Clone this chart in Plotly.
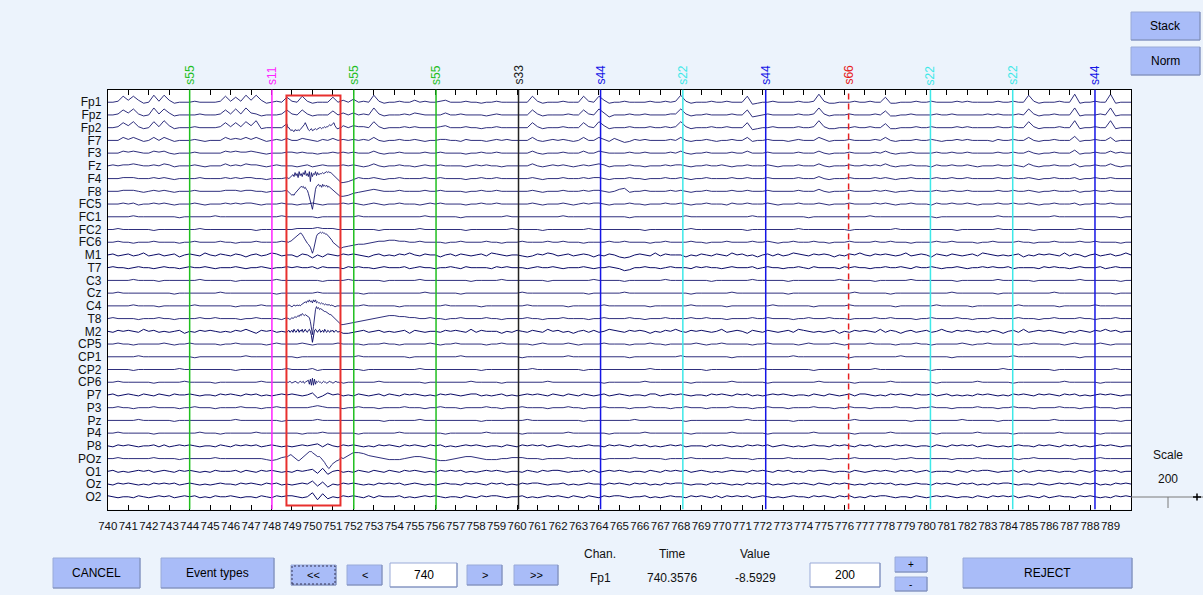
import sys
import plotly.graph_objects as go

# ---------------- DATA ----------------
CHANNELS = ["Fp1", "Fpz", "Fp2", "F7", "F3", "Fz", "F4", "F8", "FC5", "FC1", "FC2", "FC6",
            "M1", "T7", "C3", "Cz", "C4", "T8", "M2", "CP5", "CP1", "CP2", "CP6", "P7",
            "P3", "Pz", "P4", "P8", "POz", "O1", "Oz", "O2"]

T_START, T_END = 740, 790
BASE_RATE = 4            # samples / s of the coarse traces
UV_PER_LEVEL = 15.7      # µV per level step ('m' = 0)
SPACING = 200            # µV between channels (Scale 200)

# coarse traces, 4 Hz, 740.00 ... 790.00 (level letters, 'm' = 0)
BASE = {
    "Fp1": ("mmns osol mtnt olmm mnmm mmns nrnt otol mnmr nmsn"
            "lmmm rmom pmnm tnlm mnmm omnm mnom mmnm mlmm nmmm"
            "mmms nlmm mnmm msnm solm mnmm mmnm mnmn tnlm mmnm"
            "mnmm mskl mmnm mmmn mmnu nllm mmnm mnmm rllm mmnm"
            "mnmm mmnm nmmm mmnm mnmm tnlm mmnm mulm mnmm ulmm" "m"),
    "Fpz": ("mmnr osnl mtns olmm mmnm mmnr nsnt onlm mmnr nmrn"
            "lmmm qmom omnm tnlm mmnm onmm mmom mnmm mmlm nmmm"
            "mmmr nlmm mmnm mrnm sokm mmnm mnmm mmnn snlm mnmm"
            "mmnm mrkl mnmm mmmn mmnt nlmm mnmm mmnm qllm mnmm"
            "mmnm mnmm mmmm nmnm mmnm snlm mnmm mtlm mmnm tlmm" "m"),
    "Fp2": ("mmnr osnl msnt olmm mnmm mmnr nrns otlm mmmq mmmm"
            "mmmm mmom onnm snlm mmnm nmmm mnom mmnm mlmm nmmm"
            "mmmr nlmm mnmm mrnm solm mmnm mmnm mnmn snlm mmnm"
            "mnmm mrkl mmnm mmmn mmnt nllm mmnm mnmm qllm mmnm"
            "mnmm mmnm nmmm mmnm mnmm snlm mmnm mtlm mnmm tlmm" "m"),
    "F7":  ("mmmp npnl mpmp nlmm mnml mmmp nonp npnl mnmo mmon"
            "mlnm omnm nmnm pmlm mnmm nmlm mnnm mlnm mmlm nmnm"
            "mmmp mlmn mnml mpmm pnlo mkln mnmm mmnm pmlm mnml"
            "mmnm mplm mnmm mlmn mmmp nlmm mnmm mmnm pmlm mmnm"
            "mnml mmnm nmmm mlnm mnmm pmlm mnmm mqlm mnmm plmm" "m"),
    "F3":  ("mmmo nonm mono mlmm mnmm mmmo nonn onml mmmn nmnm"
            "mlmm nmnm nmmm omlm mnmm mmnm mnmm mmlm mnmm nmmm"
            "mmmo mlmm mnmm momm onmm mmnm mnmm mmnm omlm mnmm"
            "mmnm momm mnmm mmmn mmmo mlmm mnmm mmnm omlm mnmm"
            "mmnm mnmm nmmm mmnm mnmm omlm mnmm mplm mnmm omnm" "m"),
    "Fz":  ("mnmn nonm mnmo nlmm mnml mmmo mnmo nnml mnmm mlmn"
            "lmnm mmnm nmlm omlm mnmm lmnm mnmm mmlm nmnm mlmm"
            "mmmo mlmn mnml mnmn onlm mmnm mlmm mnmn nmlm mnmm"
            "nmlm mnmm mnml mmmn mmmo mlmm mnmm nmnm omlm mnmm"
            "mlnm mnmm nmlm mmnm mnml omlm mnmm molm mnmm omlm" "m"),
    "F4":  ("mmmn nnmm mnmn mlmm mmnm mmmn mnmn nmml mmmn mmmm"
            "mmmm mmij lnmm nmlm mnmm mmnm mnmm mmlm mnmm nmmm"
            "mmmn mlmm mnmm mnmn nmlm mmnm mlmm mnmm nmlm mnmm"
            "mmnm mnmm mnmm mmmn mmmo mlmm mnmm mmnm nmlm mnmm"
            "mmnm mnmm nmmm mmnm mnmm nmlm mnmm mnlm mnmm nmmm" "m"),
    "F8":  ("mmmn nnml mnmn mlmm mnmm mmmn nnmn nmml mmmn mmmm"
            "mmmm mmhi klmn onmm mnmm mmnm mnmm mmlm mnmm nmmm"
            "mmmn mlmm mnmm mnmn nmlm oplm mnmm mmnm nmlm mnmm"
            "mmnm mnmm mnmm mmmn mmmo mlmm mnmm mmnm nmlm mnmm"
            "mmnm mnmm nmmm mmnm mnmm nmlm mnmm mnlm mnmm nmmm" "m"),
    "FC5": ("mmmn mnlm mnmn mlmm mnml mmmn mnmn nmlm mmnm mlmm"
            "nmlm mmnm nmlm nmlm mnmm mlmn mnmm mmlm mnmm nmmm"
            "mmmn mlmm mnml mnmn nmlm mmnm mlmm mnmm nmlm mnmm"
            "mlnm mnmm mnml mmmn mmmn mlmm mnmm mmnm nmlm mnmm"
            "mlnm mnmm nmlm mmnm mnmm nmlm mnmm mnlm mnmm nmmm" "m"),
    "FC1": ("mmmm mnmm mmmm mmlm mmmm mnmm mmmm mmmm mmnm mmmm"
            "mlmm mmmm mnmm mmmm mmmm mmnm mmmm mlmm mmmm mmnm"
            "mmmm mmmm mnmm mmmm mmmm mmlm mmmm mmmm mnmm mmmm"
            "mmmm mmnm mmmm mmmm mlmm mmmm mmmm mnmm mmmm mmmm"
            "mmlm mmmm mmmm mmnm mmmm mmmm mnmm mmmm mmmm mmlm" "m"),
    "FC2": ("mmnm mmmm mlmm mmmm mmnm mmmm mmmm mlmm mmmm mnnn"
            "nonn nmmm mmmm mlmm mmmm mnmm mmmm mmlm mmmm mmmn"
            "mmmm mlmm mmmm mmnm mmmm mmmm mlmm mmmm mmnm mmmm"
            "mmmm mlmm mmmm mmmn mmmm mmmm mlmm mmmm mmnm mmmm"
            "mmmm mmlm mmmm mmnm mmmm mlmm mmmm mmnm mmmm mmmm" "m"),
    "FC6": ("mmnm mlmm mnmm mmlm mnmm mmnm mlmm mnmm mmnm mmmm"
            "mmmm mmhi jkkl mnno onnm mnmm mmlm mnmm mmnm mlmm"
            "mnmm mmnm mnmm mlmm mmnm mnmm mmlm mnmm mmnm mlmm"
            "mnmm mmnm mnml mmnm mmnm mlmm mnmm mmnm mnmm mlmm"
            "mmnm mnmm mmlm mnmm mmnm mlmm mnmm mmnm mnmm mmlm" "m"),
    "M1":  ("mnlm nlmo lmnl mnkm nmlo mlnm lnmk mnlm onlm mknm"
            "jmkn mlnm nmlk mnlm lnmo mlnm mkmn lnml mnlo nmlm"
            "mlkl nmon lmnl mnmk mlnm kjkm nmlo lnmm mkml nmln"
            "mlom nlmk mnln lmon mlnm nmkm lnmo mlnm nmlm olmn"
            "mknm lnml mnlo nmlm lmnk mlnm nmlo lnmk mnlm nlmo" "m"),
    "T7":  ("mnmm lmnm mlmn mmlm nmmn mlmm mnml mmnm lmmn mnmm"
            "nlnm mmln mnmm lmnm mmnl mnmm lmmn mlnm mmml nmnm"
            "mmlm nmmn mlmm mnml mmnm ljkm mnmm lmnm mmln mnmm"
            "lmnm mmnl mnmm lmmn mlnm mmml nmnm mlmm nmmn mlnm"
            "mnml mmnm lmmn mnmm nlmm mmln mnmm lmnm mmnl mnmm" "m"),
    "C3":  ("mmmm mnmm mmlm mmmm mmnm mmmm mlmm mmmm mnmm mmmm"
            "mmlm mmmn mmmm mmlm mmmm mnmm mmmm mmml mmmm mnmm"
            "mmmm mmlm mmmm mmmn mmmm mlmm mmmm mnmm mmmm mmlm"
            "mmmm mmnm mmmm mlmm mmmm mmmn mmmm mmlm mmmm mnmm"
            "mmmm mmlm mmmm mmnm mmmm mlmm mmmm mmnm mmmm mmlm" "m"),
    "Cz":  ("mmnm mmmm mmmm mlmm mmmm mmnm mmmm mmmm mlmm mmmm"
            "mnmm mmmm mmlm mmmm mmmm mmnm mmmm mlmm mmmm mmmm"
            "mnmm mmmm mmmm mmlm mmmm mnmm mmmm mmmm mmlm mmmm"
            "mmnm mmmm mmmm mlmm mmmm mmmm mmnm mmmm mlmm mmmm"
            "mmmm mnmm mmmm mmlm mmmm mmmm mnmm mmmm mmmm mlmm" "m"),
    "C4":  ("mmmm mnmm mmlm mmmm mnmm mmmm mlmm mmnm mmmm mmmm"
            "mmmm mmmm mmnm mmmm mlmm mmmm mmnm mmmm mlmm mmmm"
            "mmnm mmmm mmlm mmmm mnmm mmmm mmlm mmmm mmnm mmmm"
            "mlmm mmmm mmnm mmmm mmlm mmmm mnmm mmmm mmlm mmmm"
            "mmnm mmmm mlmm mmmm mmnm mmmm mmlm mmmm mnmm mmmm" "m"),
    "T8":  ("mnmm mmlm mmnm mlmm mmnm mnmm mmlm mnmm mmln mmmm"
            "mmmm mmgh ijkl mnop poon nmmn mmlm mnmm mmnm mlmm"
            "mmnm mlmm mnmm mmlm mnmm mmnm mlmm mnmm mmnm mnmm"
            "mlmm mmnm mnmm mmlm mnmm mnmm mlmm mmnm mnmm mmlm"
            "mnmm mmnm mlmm mnmm mmnm mmlm mnmm mmnm mlmm mnmm" "m"),
    "M2":  ("mlnm nmlo mnlm lmnk mlnm nmlm lnmo mknm nlml mnlm"
            "mmmm mmkk lmnl mnlm lmnk nmlm mlnm nmlo lnmm mkml"
            "nmln mlom nlmk mnln lmon mlnm nmkm lnmo mlnm nmlm"
            "olmn mknm lnml mnlo nmlm lmnk mlnm nmlo lnmk mnlm"
            "nlmo mlnm nmlm lnmk mnlo lmnm nmlk mlnm lnmo mnlm" "m"),
    "CP5": ("mmnm mlmm mmmn mlmm nmmm mmlm mnmm mmml mnmm mmnm"
            "lmmm mnmm mmlm mmnm mlmm mmmn mlmm nmmm mmlm mnmm"
            "mmml mnmm mmnm lmmm mnmm mmlm mmnm mlmm mmmn mlmm"
            "nmmm mmlm mnmm mmml mnmm mmnm lmmm mnmm mmlm mmnm"
            "mlmm mmmn mlmm nmmm mmlm mnmm mmml mnmm mmnm lmmm" "m"),
    "CP1": ("mmmm mmnm mmmm mmmm mlmm mmmm mmmn mmmm mmmm mlmm"
            "mmmm mmmm mnmm mmmm mmml mmmm mmmm mnmm mmmm mmmm"
            "mlmm mmmm mmnm mmmm mmmm mmlm mmmm mmmm nmmm mmmm"
            "mmlm mmmm mmmm mmnm mmmm mmmm mlmm mmmm mmmn mmmm"
            "mmmm mlmm mmmm mmmm mnmm mmmm mmmm mmlm mmmm mmmm" "m"),
    "CP2": ("mmmm mlmm mmmm mmnm mmmm mmmm mlmm mmmm mmmn mmmm"
            "nlmm mmmm mmlm mmmm mmmm mnmm mmmm mmmm mlmm mmmm"
            "mmmn mmmm mmmm mlmm mmmm mmmm mmnm mmmm mmmm mlmm"
            "mmmm mmmm nmmm mmmm mmlm mmmm mmmm mmnm mmmm mmmm"
            "mlmm mmmm mmmm mmmn mmmm mmmm mlmm mmmm mmmm mnmm" "m"),
    "CP6": ("mmnm mmmm mlmm mmmn mmmm mlmm mmmm mmnm mmmm mmmm"
            "mmmm mmlm mmmm mnmm mmmm mmlm mmmm mmmn mmmm mlmm"
            "mmmm mmnm mmmm mmmm mlmm mmmm mnmm mmmm mmlm mmmm"
            "mmnm mmmm mlmm mmmm mmmn mmmm mmlm mmmm mnmm mmmm"
            "mmlm mmmm mmnm mmmm mlmm mmmm mmmn mmmm mmlm mmmm" "m"),
    "P7":  ("mnlm nmln mlnm lnmm nmlm mlnm nmln mnlm lmnm nmlm"
            "ojlo mnlm lnml mnln mlnm nmlm lnmn mlmn nlml mnlm"
            "lmnm nmln mlnm lnml mnlm nmlm mlnn lmnm nmlm mlnm"
            "nmln mnlm lmnm nmlm mlnm lnml mnln nmlm lnmn mlnm"
            "mnlm nlml mlnm nmlm lnmn mlnm nmln mnlm lmnm nmlm" "m"),
    "P3":  ("mmnm mlmm mnmm mmlm mnmm mlmm mmnm mmlm mnmm mmmm"
            "nonm mmlm mnmm mlmm mmnm mmlm mnmm mlmm mmnm mlmm"
            "mnmm mmlm mmnm mlmm mnmm mmlm mmnm mmlm mnmm mlmm"
            "mmnm mmlm mnmm mlmm mmnm mmlm mnmm mlmm mmnm mmlm"
            "mnmm mlmm mmnm mmlm mnmm mlmm mmnm mmlm mnmm mlmm" "m"),
    "Pz":  ("mmmm mmnm mmmm mlmm mmmm mmmm mnmm mmmm mmlm mmmm"
            "mnmm mmmm mmmm mmlm mmmm mnmm mmmm mmmm mlmm mmmm"
            "mmnm mmmm mmmm mlmm mmmm mmmn mmmm mmmm mlmm mmmm"
            "mmmm mnmm mmmm mmlm mmmm mmmm mmnm mmmm mmmm mlmm"
            "mmmm mmmn mmmm mmlm mmmm mmmm mnmm mmmm mmmm mmlm" "m"),
    "P4":  ("mmnm mmmm mlmm mmmm mmnm mmlm mmmm mnmm mmmm mmlm"
            "mmnm mmmm mlmm mmmm mnmm mmmm mmlm mmmm mmnm mmmm"
            "mlmm mmmm mmnm mmmm mmlm mmmm mnmm mmmm mmlm mmmm"
            "mmnm mmmm mlmm mmmm mmnm mmmm mmlm mmmm mnmm mmmm"
            "mmlm mmmm mmnm mmmm mlmm mmmm mmnm mmmm mmlm mmmm" "m"),
    "P8":  ("mlnm nmlm mnln lmnm nmlm mlnm lnmn mnlm nmlm lmnm"
            "nolo mlnm nmlm lnmn mlnm nmln mnlm lmnm nmlm mlnm"
            "lnmn mnlm nmlm lmnm mlnm nmln mnlm lmnm nlmm mlnm"
            "nmlm lnmn mnlm nmlm lmnm mlnm nmln mnlm lmnm nmlm"
            "mlnm lnmn mnlm nmlm lmnm mlnm nmln mnlm lmnm nmlm" "m"),
    "POz": ("mmnm mmmm mnmm mmlm mmmm mnmm mmmm mmml klno mmmm"
            "mmmm mmmp ssrp onml llmn oonm lkkl mnoo nmll lmmn"
            "nnmm mlmm mmnm mmmm mlmm mmmn mmmm mlmm mmnm mmmm"
            "mnmm mmlm mmmm mnmm mmmm mlmm mmnm mmmm mmlm mnmm"
            "mmmm mlmm mmnm mmmm mmlm mnmm mmmm mlmm mmnm mmmm" "m"),
    "O1":  ("mnlm lmnm nlmn mlnm nmlm lnmm mnln mlnm nmlm lnmn"
            "okpj mnlm lnml nmln mlnm nmlm lnmn mnlm lmnm nmlm"
            "mlnm lnmn nmlm mnln lmnm nmlm mlnm lnmn mnlm nmlm"
            "lmnm mlnm nmln mnlm lnmn nmlm mlnm lmnm nmln mnlm"
            "nlmm mlnm lnmn nmlm mnln lmnm nmlm mlnm lnmn mnlm" "m"),
    "Oz":  ("mlnm nmlm lnmn mnlm nmlm lmnm mlnm nmln mnlm lmnm"
            "pkoj mlnm nmlm lnmn mnlm nmlm lmnm mlnm nmln mnlm"
            "lnmn nmlm mnlm lmnm mlnm nmln mnlm lnmn nmlm mlnm"
            "nmlm lnmn mnlm lmnm nmln mlnm nmlm lnmn mnlm lmnm"
            "mlnm nmln mnlm lnmn nmlm mlnm lmnm nmln mnlm lnmn" "m"),
    "O2":  ("nmlm mlnm lmnm nlmn mnlm lnmm nmlm mlnm lnmn nmlm"
            "qjpk mlnm nmln lnmm mnlm lmnm nmlm mlnm lnmn nmlm"
            "mnlm lmnm nmln mlnm lnmn nmlm mnlm lmnm mlnm nmln"
            "lnmn mnlm nmlm lmnm mlnm nmln mnlm lnmn nmlm mlnm"
            "lmnm nmlm mlnm lnmn mnlm nmln lmnm mlnm nmlm lnmn" "m"),
}

# fine detail inside the marked window, 20 Hz from 748.80 to 751.40 (levels)
ART_T0, ART_RATE = 748.8, 20
ART = {
    "Fp2": [0, 0, -1, -3, -2, -3, -4, -2, -3, -3, -2, -3, -2, -1, 0, 2, 3, 5, 2, -1,
            -2, -3, -2, -1, -3, -2, -2, -1, -2, -1, -1, 0, 0, -1, 0, 0, 1, 0, 1, 1,
            2, 3, 2, 3, 4, 5, 2, 0, -1, -1, 0, 0, 0],
    "F4":  [0, 0, 1, 2, 3, 4, 2, 6, 3, 5, 1, 7, 3, 5, 2, 6, 4, 8, 3, 5,
            2, 7, -3, 6, 2, 5, 4, 7, 3, 6, 4, 5, 5, 5, 6, 5, 6, 6, 7, 6,
            7, 6, 6, 5, 4, 3, 1, 0, -1, -2, -3, -4, -4],
    "F8":  [0, -1, -2, -3, -4, -3, -4, -2, -1, 0, 1, 3, 4, 5, 4, 5, 3, 4, 2, 1,
            -2, -6, -11, -16, -18, -12, -4, 2, 5, 6, 7, 5, 6, 4, 7, 5, 6, 5, 6, 4,
            5, 4, 3, 3, 2, 1, 0, -1, -2, -3, -4, -5, -5],
    "FC6": [0, 0, 1, 1, 2, 3, 4, 5, 6, 7, 8, 8, 9, 9, 8, 6, 4, 2, 0, -1,
            -2, -3, -5, -8, -11, -8, -3, 2, 6, 8, 9, 9, 10, 9, 10, 9, 9, 8, 8, 7,
            6, 5, 4, 2, 0, -1, -2, -3, -4, -5, -5, -6, -6],
    "C4":  [0, 1, 0, 0, -1, 0, 1, 0, 0, 1, 0, 1, 0, 1, 2, 3, 3, 4, 3, 5,
            4, 6, 4, 5, 3, 6, 4, 6, 3, 4, 3, 3, 2, 3, 2, 2, 1, 2, 1, 1,
            1, 1, 0, 1, 0, 0, -1, 0, 0, 0, 0, 0, 0],
    "T8":  [0, 0, -1, 0, 1, 0, 1, 2, 1, 2, 3, 2, 4, 3, 5, 4, 3, 4, 3, 2,
            2, 1, -3, -10, -16, -8, 2, 9, 12, 10, 11, 9, 10, 9, 8, 8, 7, 7, 6, 6,
            5, 4, 4, 3, 2, 1, 0, -1, -2, -3, -4, -5, -6],
    "M2":  [0, 1, -1, 0, 1, -1, 2, 0, -1, 1, 2, -1, 1, 0, 2, -1, 1, 2, 0, -1,
            1, 2, 0, -4, -11, -6, 1, 2, 0, -1, 1, 2, -1, 0, 1, -1, 2, 0, -1, 1,
            0, -1, 1, 0, 1, -1, 0, 1, 0, -1, 0, -1, -1],
    "CP6": [0, 0, 1, 0, -1, 0, 0, 1, 0, 0, -1, 0, 1, 0, 0, 1, -1, 0, 1, 1,
            2, -2, 3, -3, 4, -3, 3, -2, 1, 0, 1, 0, 0, -1, 0, 1, 0, 0, -1, 0,
            0, 1, 0, 0, -1, 0, 0, 1, 0, 0, 0, -1, 0],
    "POz": [2, 3, 4, 4, 3, 2, 1, 0, -1, -2, -2, -2, -1, 0, 1, 2, 3, 4, 5, 6,
            6, 7, 7, 7, 6, 5, 4, 3, 2, 2, 2, 2, 1, 0, -1, -3, -4, -6, -7, -9,
            -10, -9, -7, -6, -5, -4, -3, -3, -2, -2, -1, 0, 1],
}

EVENT_TIMES = [744.0, 748.02, 752.02, 756.04, 760.07, 764.08, 768.1, 772.15,
               776.2, 780.2, 784.22, 788.24]
EVENT_TYPES = ["s55", "s11", "s55", "s55", "s33", "s44", "s22", "s44",
               "s66", "s22", "s22", "s44"]
REJECT_WINDOW = (748.73, 751.37)
XTICKS = list(range(740, 790))
XTICK_LABELS = [str(v) for v in XTICKS]

# ---------------- STYLE ----------------
W, H = 1203, 595
BG = "#ecf3fc"
BTN = "#a9bcf8"
TRACE_COLOR = "#0a0a66"
EVENT_COLORS = {"s55": "#1fbf1f", "s11": "#ff22ff", "s33": "#222222",
                "s44": "#1515e6", "s22": "#3ee8e8", "s66": "#e62020"}
NOISY = {"M1", "M2", "P7", "P8", "O1", "Oz", "O2", "T7"}
FONT = "Arial, Liberation Sans, sans-serif"


def px(x):
    return x / W


def py(y):
    return 1 - y / H


fig = go.Figure()
n = len(CHANNELS)
offsets = []
for i, ch in enumerate(CHANNELS):
    off = (n - i) * SPACING
    offsets.append(off)
    s = BASE[ch].replace(" ", "")
    if len(s) != (T_END - T_START) * BASE_RATE + 1:
        print("length mismatch", ch, len(s), file=sys.stderr)
    lv = [ord(c) - ord("m") for c in s]
    ts = [T_START + k / BASE_RATE for k in range(len(lv))]
    pts = list(zip(ts, lv))
    if ch in ART:
        a = ART[ch]
        a_end = ART_T0 + (len(a) - 1) / ART_RATE
        pts = [p for p in pts if p[0] < ART_T0 - 1e-9 or p[0] > a_end + 1e-9]
        pts += [(ART_T0 + k / ART_RATE, v) for k, v in enumerate(a)]
        pts.sort()
    fig.add_trace(go.Scatter(
        x=[p[0] for p in pts], y=[off + p[1] * UV_PER_LEVEL for p in pts],
        mode="lines", hoverinfo="skip", showlegend=False,
        line=dict(color=TRACE_COLOR, width=1.0 if ch in NOISY else 0.85)))

ymax = (n + 1) * SPACING
shapes = []
annotations = []

# event lines and labels
for t, ev in zip(EVENT_TIMES, EVENT_TYPES):
    col = EVENT_COLORS[ev]
    shapes.append(dict(type="line", xref="x", yref="y", x0=t, x1=t, y0=0, y1=ymax,
                       line=dict(color=col, width=1.5,
                                 dash="6px,4px" if ev == "s66" else "solid"),
                       layer="above"))
    annotations.append(dict(x=t, xref="x", y=py(75), yref="paper", text=ev,
                            showarrow=False, textangle=-90,
                            font=dict(family=FONT, size=12, color=col),
                            xanchor="center", yanchor="middle"))

# rejection window
shapes.append(dict(type="rect", xref="x", yref="y", x0=REJECT_WINDOW[0], x1=REJECT_WINDOW[1],
                   y0=63, y1=6505, line=dict(color="#e8302e", width=2), layer="above"))


def button(x0, y0, x1, y1, label, fill=BTN, dashed=False, size=12):
    shapes.append(dict(type="rect", xref="paper", yref="paper", x0=px(x0), x1=px(x1),
                       y0=py(y1), y1=py(y0), fillcolor=fill,
                       line=dict(color="#9aaad8", width=1)))
    # darker bottom/right edge for a raised look
    shapes.append(dict(type="path", xref="paper", yref="paper",
                       path="M %f %f L %f %f L %f %f" % (px(x0), py(y1), px(x1), py(y1), px(x1), py(y0)),
                       line=dict(color="#7d8cb8", width=1)))
    if dashed:
        shapes.append(dict(type="rect", xref="paper", yref="paper", x0=px(x0 + 1), x1=px(x1 - 1),
                           y0=py(y1 - 1), y1=py(y0 + 1),
                           line=dict(color="#333355", width=1, dash="2px,2px")))
    annotations.append(dict(x=px((x0 + x1) / 2), y=py((y0 + y1) / 2), xref="paper", yref="paper",
                            text=label, showarrow=False, xanchor="center", yanchor="middle",
                            font=dict(family=FONT, size=size, color="#000")))


def label(x, y, txt, size=12):
    annotations.append(dict(x=px(x), y=py(y), xref="paper", yref="paper", text=txt,
                            showarrow=False, xanchor="center", yanchor="middle",
                            font=dict(family=FONT, size=size, color="#111")))


button(1131, 12, 1200, 40, "Stack")
button(1131, 47, 1200, 75, "Norm")
button(53, 558, 140, 588, "CANCEL")
button(161, 558, 274, 588, "Event types")
button(291, 565, 336, 585, "<<", dashed=True, size=11)
button(347, 565, 382, 585, "<", size=11)
button(390, 563, 457, 587, "740", fill="#ffffff")
button(467, 565, 502, 585, ">", size=11)
button(514, 565, 558, 585, ">>", size=11)
button(810, 563, 880, 587, "200", fill="#ffffff")
button(895, 557, 927, 572, "+", size=10)
button(895, 577, 927, 591, "-", size=10)
button(963, 558, 1132, 588, "REJECT")

label(600, 554, "Chan.")
label(672, 554, "Time")
label(755, 554, "Value")
label(600, 578, "Fp1")
label(672, 578, "740.3576")
label(755, 578, "-8.5929")
label(1168, 455, "Scale")
label(1168, 479, "200")

# scale bar widget
shapes.append(dict(type="line", xref="paper", yref="paper", x0=px(1131), x1=px(1203),
                   y0=py(497), y1=py(497), line=dict(color="#7a7a7a", width=1)))
shapes.append(dict(type="line", xref="paper", yref="paper", x0=px(1168), x1=px(1168),
                   y0=py(497), y1=py(508), line=dict(color="#7a7a7a", width=1)))
shapes.append(dict(type="line", xref="paper", yref="paper", x0=px(1193), x1=px(1201),
                   y0=py(497), y1=py(497), line=dict(color="#000", width=1.5)))
shapes.append(dict(type="line", xref="paper", yref="paper", x0=px(1197), x1=px(1197),
                   y0=py(493.5), y1=py(500.5), line=dict(color="#000", width=1.5)))

fig.update_layout(
    width=W, height=H, autosize=False,
    margin=dict(l=0, r=0, t=0, b=0, autoexpand=False),
    paper_bgcolor=BG, plot_bgcolor="#ffffff",
    showlegend=False, hovermode=False,
    shapes=shapes, annotations=annotations,
    xaxis=dict(domain=[px(107.8), px(1131)], range=[T_START, T_END], automargin=False,
               tickmode="array", tickvals=XTICKS, ticktext=XTICK_LABELS, tickangle=0,
               ticks="inside", ticklen=5, tickcolor="#000", tickwidth=1,
               showline=True, linecolor="#000", linewidth=1, mirror="ticks",
               showgrid=False, zeroline=False, ticklabelstandoff=6,
               tickfont=dict(family=FONT, size=11.5, color="#111")),
    yaxis=dict(domain=[py(509.5), py(89.5)], range=[0, ymax], automargin=False,
               tickmode="array", tickvals=offsets, ticktext=CHANNELS,
               ticks="", showline=True, linecolor="#000", linewidth=1, mirror=True,
               showgrid=False, zeroline=False, ticklabelstandoff=3,
               tickfont=dict(family=FONT, size=12, color="#111")),
)

fig.write_html("out.html", config={"displayModeBar": False},
               post_script="document.body.style.margin='0';"
                           "document.body.style.overflow='hidden';"
                           "document.documentElement.style.background='%s';" % BG)
